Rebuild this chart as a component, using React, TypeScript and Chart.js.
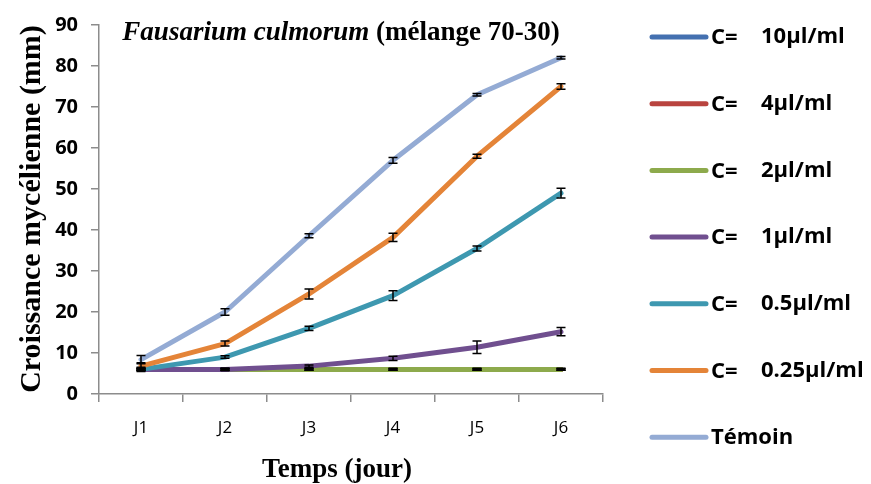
import React, { useEffect, useRef } from "react";
import { Chart, registerables } from "chart.js";

Chart.register(...registerables);

const categories = ["J1", "J2", "J3", "J4", "J5", "J6"];
const yTicks = [0, 10, 20, 30, 40, 50, 60, 70, 80, 90];

const seriesNames = ["10µl/ml", "4µl/ml", "2µl/ml", "1µl/ml", "0.5µl/ml", "0.25µl/ml", "Témoin"];
const seriesColors = ["#4470B0", "#B9443F", "#8DAA4C", "#704F8F", "#3E98B0", "#E48438", "#94ABD4"];

const c10 = [6, 6, 6, 6, 6, 6];
const c4 = [6, 6, 6, 6, 6, 6];
const c2 = [6, 6, 6, 6, 6, 6];
const c1 = [6, 6, 6.8, 8.7, 11.4, 15.2];
const c05 = [6, 9, 16, 24, 35.5, 49];
const c025 = [6.8, 12.3, 24.4, 38.2, 58, 75];
const temoin = [8.4, 20, 38.6, 57, 73, 82];

const err10 = [0.2, 0.2, 0.2, 0.2, 0.2, 0.2];
const err4 = [0.2, 0.2, 0.2, 0.2, 0.2, 0.2];
const err2 = [0.2, 0.2, 0.2, 0.2, 0.2, 0.2];
const err1 = [0.3, 0.3, 0.3, 0.5, 1.5, 1.0];
const err05 = [0.5, 0.3, 0.5, 1.2, 0.6, 1.2];
const err025 = [0.8, 0.6, 1.2, 1.0, 0.5, 0.7];
const errTemoin = [1.0, 0.8, 0.5, 0.7, 0.3, 0.3];

const seriesValues = [c10, c4, c2, c1, c05, c025, temoin];
const seriesErrors = [err10, err4, err2, err1, err05, err025, errTemoin];

const SANS = "'Open Sans', 'Liberation Sans', sans-serif";
const SERIF = "'Liberation Serif', 'DejaVu Serif', serif";

const errorBarPlugin = {
  id: "errorBars",
  afterDatasetsDraw(chart: any) {
    const ctx = chart.ctx;
    const y = chart.scales.y;
    ctx.save();
    ctx.strokeStyle = "#000";
    ctx.lineWidth = 1.5;
    chart.data.datasets.forEach((ds: any, di: number) => {
      const meta = chart.getDatasetMeta(di);
      const errs = seriesErrors[di];
      meta.data.forEach((pt: any, i: number) => {
        const v = ds.data[i];
        const e = errs[i];
        const x = pt.x;
        const yt = y.getPixelForValue(v + e);
        const yb = y.getPixelForValue(v - e);
        ctx.beginPath();
        ctx.moveTo(x, yt);
        ctx.lineTo(x, yb);
        ctx.moveTo(x - 4.5, yt);
        ctx.lineTo(x + 4.5, yt);
        ctx.moveTo(x - 4.5, yb);
        ctx.lineTo(x + 4.5, yb);
        ctx.stroke();
      });
    });
    ctx.restore();
  },
};

const decorPlugin = {
  id: "decor",
  afterDraw(chart: any) {
    const ctx = chart.ctx;
    ctx.save();
    ctx.fillStyle = "#000";
    // Chart title (mixed italic)
    const t1 = "Fausarium culmorum";
    const t2 = " (mélange 70-30)";
    ctx.textBaseline = "alphabetic";
    ctx.font = `italic bold 27px ${SERIF}`;
    const w1 = ctx.measureText(t1).width;
    ctx.font = `bold 27px ${SERIF}`;
    const w2 = ctx.measureText(t2).width;
    const cx = 341;
    const sx = cx - (w1 + w2) / 2;
    ctx.font = `italic bold 27px ${SERIF}`;
    ctx.textAlign = "left";
    ctx.fillText(t1, sx, 40);
    ctx.font = `bold 27px ${SERIF}`;
    ctx.fillText(t2, sx + w1, 40);

    // X axis title
    ctx.textAlign = "center";
    ctx.font = `bold 27px ${SERIF}`;
    ctx.fillText("Temps (jour)", 337, 477);

    // Y axis title
    ctx.save();
    ctx.translate(40, 209);
    ctx.rotate(-Math.PI / 2);
    ctx.font = `bold 30px ${SERIF}`;
    ctx.fillText("Croissance mycélienne (mm)", 0, 0);
    ctx.restore();

    // Legend
    const lx0 = 652;
    const lx1 = 706;
    ctx.textBaseline = "middle";
    seriesNames.forEach((name, i) => {
      const ly = 37 + i * 66.7;
      ctx.strokeStyle = seriesColors[i];
      ctx.lineWidth = 5;
      ctx.lineCap = "round";
      ctx.beginPath();
      ctx.moveTo(lx0, ly);
      ctx.lineTo(lx1, ly);
      ctx.stroke();
      ctx.fillStyle = "#000";
      ctx.textAlign = "left";
      ctx.font = `bold 22px ${SANS}`;
      if (name === "Témoin") {
        ctx.fillText(name, 711, ly + 1);
      } else {
        ctx.fillText("C=", 711, ly + 1);
        ctx.fillText(name, 761, ly);
      }
    });
    ctx.restore();
  },
};

export default function App() {
  const canvasRef = useRef<HTMLCanvasElement | null>(null);

  useEffect(() => {
    if (!canvasRef.current) return;
    const datasets = seriesNames.map((name, i) => ({
      label: name,
      data: seriesValues[i],
      borderColor: seriesColors[i],
      backgroundColor: seriesColors[i],
      borderWidth: 5,
      pointRadius: 0,
      tension: 0,
      order: seriesNames.length - 1 - i,
      borderCapStyle: "round" as const,
      borderJoinStyle: "round" as const,
    }));
    const chart = new Chart(canvasRef.current, {
      type: "line",
      data: { labels: categories, datasets },
      options: {
        animation: false,
        responsive: false,
        maintainAspectRatio: false,
        layout: { padding: { left: 0, right: 268, top: 21, bottom: 0 } },
        plugins: { legend: { display: false }, tooltip: { enabled: false }, title: { display: false } },
        scales: {
          x: {
            offset: true,
            grid: {
              offset: true,
              drawOnChartArea: false,
              drawTicks: true,
              tickLength: 8,
              color: "#8c8c8c",
              lineWidth: 1.5,
            },
            border: { display: true, color: "#8c8c8c", width: 1.5 },
            ticks: { color: "#000", font: { family: SANS, size: 17 }, padding: 16 },
            afterFit(scale: any) {
              scale.height = 90;
            },
          },
          y: {
            min: 0,
            max: 90,
            afterBuildTicks(scale: any) {
              scale.ticks = yTicks.map((v) => ({ value: v }));
            },
            grid: {
              drawOnChartArea: false,
              drawTicks: true,
              tickLength: 8,
              color: "#8c8c8c",
              lineWidth: 1.5,
            },
            border: { display: true, color: "#8c8c8c", width: 1.5 },
            ticks: { color: "#000", font: { family: SANS, size: 20, weight: "bold" }, padding: 13 },
            afterFit(scale: any) {
              scale.width = 99;
            },
          },
        },
      },
      plugins: [errorBarPlugin, decorPlugin],
    });
    return () => chart.destroy();
  }, []);

  return (
    <div style={{ position: "fixed", left: 0, top: 0, width: 871, height: 484, background: "#fff" }}>
      <canvas ref={canvasRef} width={871} height={484} style={{ width: 871, height: 484 }} />
    </div>
  );
}
